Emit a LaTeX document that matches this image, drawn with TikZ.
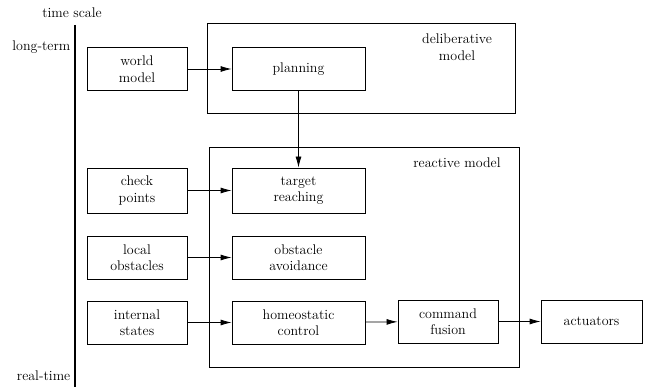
\documentclass[tikz,border=0pt]{standalone}
\usepackage{tikz}
\usetikzlibrary{arrows.meta, positioning, calc}

\begin{document}
\begin{tikzpicture}[x=1pt, y=-1pt, line width=0.8pt,
    block/.style={draw, align=center, inner sep=0pt, minimum height=43pt,
        font=\fontsize{14}{16.5}\selectfont},
    src/.style={block, minimum width=100pt},
    proc/.style={block, minimum width=133pt},
    flow/.style={-{Latex[length=11pt, width=6pt]}},
    lbl/.style={align=center, font=\fontsize{14}{16.5}\selectfont}]
    \useasboundingbox (0,0) rectangle (649,387);

    % Time scale
    \coordinate (top) at (75,25);
    \coordinate (bot) at (75,387);
    \draw[line width=1.6pt] (top) -- (bot);
    \node[lbl] (ts) at (72,13) {time scale};
    \node[lbl, anchor=east] (lt) at (74,47) {long-term};
    \node[lbl, anchor=east] (rt) at (74,376) {real-time};

    % Models
    \draw (207,23) rectangle (515,113);
    \draw (209,147) rectangle (519,367);
    \node[lbl] (delib) at (457,47) {deliberative\\model};
    \node[lbl] (react) at (457,163) {reactive model};

    % Blocks
    \node[src] (world) at (137,69) {world\\model};
    \node[proc] (plan) at (298.5,69) {planning};
    \node[src, minimum height=45pt] (check) at (137,190.5) {check\\points};
    \node[proc, minimum height=45pt] (target) at (298.5,190.5) {target\\reaching};
    \node[src] (local) at (137,257.5) {local\\obstacles};
    \node[proc] (avoid) at (298.5,257.5) {obstacle\\avoidance};
    \node[src] (internal) at (137,322.5) {internal\\states};
    \node[proc] (homeo) at (298.5,322.5) {homeostatic\\control};
    \node[src] (fusion) at (448,321.5) {command\\fusion};
    \node[src, minimum width=101pt] (act) at (591.5,321.5) {actuators};

    % Arrows
    \draw[flow] (world) -- (plan);
    \draw[flow] (plan.south) -- (target.north);
    \foreach \a/\b in {check/target, local/avoid, internal/homeo, homeo/fusion, fusion/act} {
        \draw[flow] (\a) -- (\b);
    }
\end{tikzpicture}
\end{document}
